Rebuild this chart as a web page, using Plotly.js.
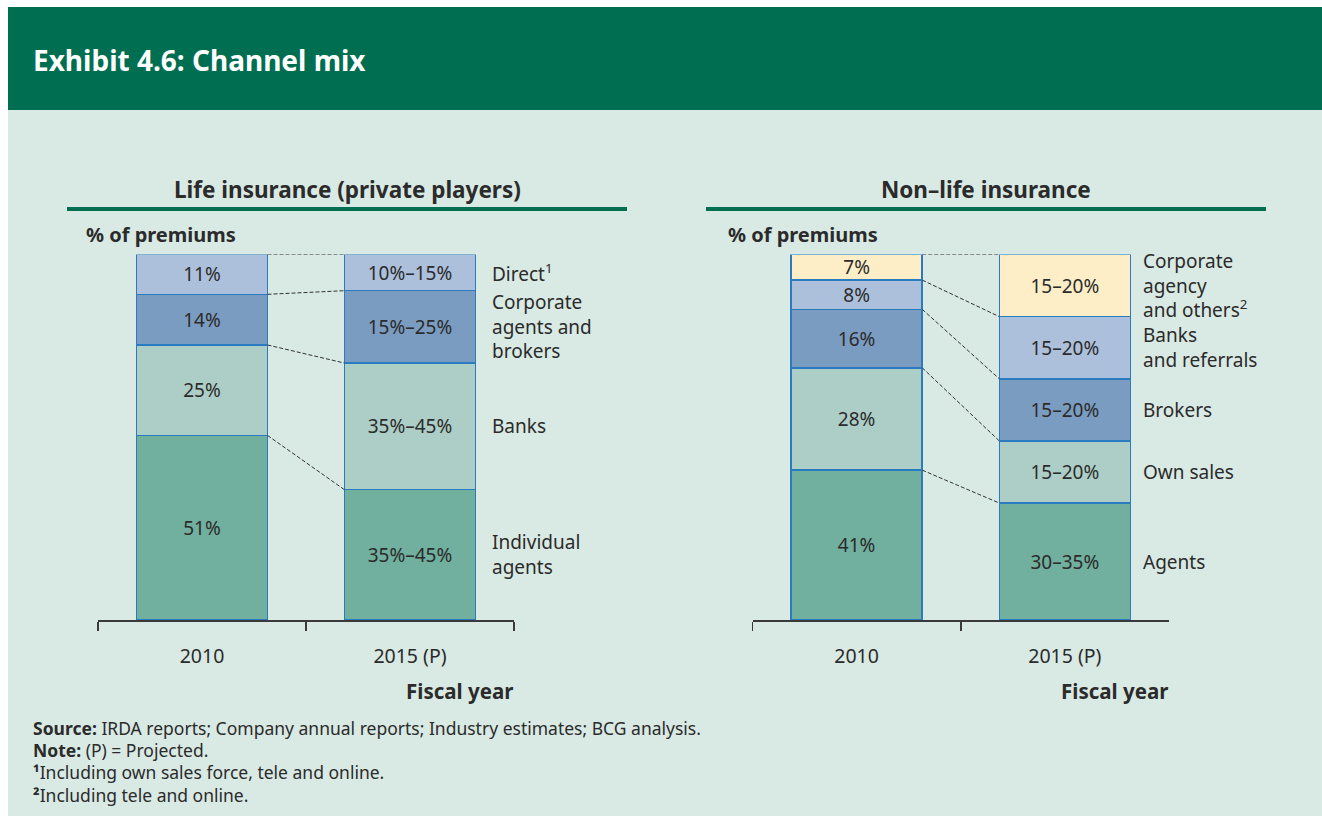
<!DOCTYPE html>
<html>
<head>
<meta charset="utf-8">
<script src="https://cdn.plot.ly/plotly-3.0.1.min.js"></script>
<style>
html,body{margin:0;padding:0;background:#ffffff;}
#chart{width:1322px;height:816px;}
</style>
</head>
<body>
<div id="chart"></div>
<script>
// ---------- DATA ----------
const years = ['2010', '2015 (P)'];

// Life insurance (private players), bottom -> top
const lifeSegments = ['Individual agents', 'Banks', 'Corporate agents and brokers', 'Direct'];
const lifeLabels = ['Individual<br>agents', 'Banks', 'Corporate<br>agents and<br>brokers', 'Direct<sup>1</sup>'];
const life2010 = [51, 25, 14, 11];
const life2015 = [36, 35, 20, 10];
const life2010Text = ['51%', '25%', '14%', '11%'];
const life2015Text = ['35%–45%', '35%–45%', '15%–25%', '10%–15%'];

// Non-life insurance, bottom -> top
const nonlifeSegments = ['Agents', 'Own sales', 'Brokers', 'Banks and referrals', 'Corporate agency and others'];
const nonlifeLabels = ['Agents', 'Own sales', 'Brokers', 'Banks<br>and referrals', 'Corporate<br>agency<br>and others<sup>2</sup>'];
const nonlife2010 = [41, 28, 16, 8, 7];
const nonlife2015 = [32, 17, 17, 17, 17];
const nonlife2010Text = ['41%', '28%', '16%', '8%', '7%'];
const nonlife2015Text = ['30–35%', '15–20%', '15–20%', '15–20%', '15–20%'];

const lifeColors = ['#71af9f', '#adcec7', '#7b9cc1', '#acc0db'];
const nonlifeColors = ['#71af9f', '#adcec7', '#7b9cc1', '#acc0db', '#fdeec7'];

// ---------- STYLE ----------
const W = 1322, H = 816;
const FONT = "'Noto Sans', 'DejaVu Sans', sans-serif";
const TXT = '#2b2b2b';
const GREEN = '#006e51';
const MINT = '#d9e9e3';
const BARW = 0.63;
const px = v => v / W;
const py = v => 1 - v / H;

function cum(arr) { let s = 0; return arr.map(v => (s += v)); }
function mids(arr) { let s = 0; return arr.map(v => { const m = s + v / 2; s += v; return m; }); }

const traces = [];
function addPanel(segs, v10, v15, t10, t15, colors, xa, ya, xo) {
  segs.forEach((name, i) => {
    traces.push({
      type: 'bar', name: name, x: years, y: [v10[i], v15[i]],
      text: [t10[i], t15[i]], textposition: 'inside', insidetextanchor: 'middle',
      textangle: 0, constraintext: 'none',
      textfont: { family: FONT, size: 19, color: TXT },
      width: BARW,
      marker: { color: colors[i], line: { color: '#2a7cc0', width: 1.5 } },
      xaxis: xa, yaxis: ya, showlegend: false, hoverinfo: 'skip'
    });
  });
  const c10 = cum(v10), c15 = cum(v15);
  const lx = [], ly = [];
  c10.forEach((v, i) => { lx.push(BARW / 2, 1 - BARW / 2, null); ly.push(v, c15[i], null); });
  traces.push({
    type: 'scatter', mode: 'lines', x: lx, y: ly, connectgaps: false,
    line: { color: '#333333', width: 1, dash: '4px,2px' },
    xaxis: xo, yaxis: ya, showlegend: false, hoverinfo: 'skip'
  });
}
addPanel(lifeSegments, life2010, life2015, life2010Text, life2015Text, lifeColors, 'x', 'y', 'x3');
addPanel(nonlifeSegments, nonlife2010, nonlife2015, nonlife2010Text, nonlife2015Text, nonlifeColors, 'x2', 'y2', 'x4');

const yDom = [py(620), py(254.5)];
function catAxis(l, r, anchor) {
  return {
    domain: [px(l), px(r)], anchor: anchor, type: 'category',
    showline: true, linecolor: '#3a3a3a', linewidth: 1.5,
    ticks: 'outside', tickson: 'boundaries', ticklen: 9, tickcolor: '#3a3a3a', tickwidth: 1.5,
    tickfont: { family: FONT, size: 19.5, color: TXT }, ticklabelstandoff: 18,
    showgrid: false, zeroline: false, fixedrange: true
  };
}
function overAxis(over, anchor) {
  return { overlaying: over, anchor: anchor, range: [-0.5, 1.5], visible: false, fixedrange: true };
}

const annotations = [];
function lab(text, x, y, o) {
  annotations.push(Object.assign({
    text: text, x: x, y: y, xref: 'paper', yref: 'paper', showarrow: false,
    xanchor: 'left', yanchor: 'middle', align: 'left',
    font: { family: FONT, size: 17, color: TXT }
  }, o || {}));
}
// header
lab('<b>Exhibit 4.6: Channel mix</b>', px(31), py(60), { font: { family: FONT, size: 28, color: '#ffffff' } });
// panel titles
lab('<b>Life insurance (private players)</b>', px(347), py(189), { xanchor: 'center', font: { family: FONT, size: 22.5, color: TXT } });
lab('<b>Non–life insurance</b>', px(986), py(189), { xanchor: 'center', font: { family: FONT, size: 22.5, color: TXT } });
lab('<b>% of premiums</b>', px(84), py(235), { font: { family: FONT, size: 20, color: TXT } });
lab('<b>% of premiums</b>', px(726), py(235), { font: { family: FONT, size: 20, color: TXT } });
lab('<b>Fiscal year</b>', px(459), py(691), { xanchor: 'center', font: { family: FONT, size: 20.5, color: TXT } });
lab('<b>Fiscal year</b>', px(1114), py(691), { xanchor: 'center', font: { family: FONT, size: 20.5, color: TXT } });
// segment labels tied to 2015 segment midpoints
mids(life2015).forEach((m, i) => {
  annotations.push({ text: lifeLabels[i], x: px(490), y: m, xref: 'paper', yref: 'y', showarrow: false,
    xanchor: 'left', yanchor: 'middle', align: 'left', font: { family: FONT, size: 19, color: TXT } });
});
mids(nonlife2015).forEach((m, i) => {
  annotations.push({ text: nonlifeLabels[i], x: px(1141), y: m, xref: 'paper', yref: 'y2', showarrow: false,
    xanchor: 'left', yanchor: 'middle', align: 'left', font: { family: FONT, size: 19, color: TXT } });
});
// footnotes
const FN = 17.5;
lab('<b>Source:</b> IRDA reports; Company annual reports; Industry estimates; BCG analysis.', px(31), py(728), { font: { family: FONT, size: FN, color: TXT } });
lab('<b>Note:</b> (P) = Projected.', px(31), py(750), { font: { family: FONT, size: FN, color: TXT } });
lab('<b>¹</b>Including own sales force, tele and online.', px(31), py(772), { font: { family: FONT, size: FN, color: TXT } });
lab('<b>²</b>Including tele and online.', px(31), py(795), { font: { family: FONT, size: FN, color: TXT } });

const shapes = [
  { type: 'rect', xref: 'paper', yref: 'paper', x0: px(8), x1: 1, y0: py(110), y1: py(7), fillcolor: GREEN, line: { width: 0 }, layer: 'below' },
  { type: 'rect', xref: 'paper', yref: 'paper', x0: px(8), x1: 1, y0: 0, y1: py(110), fillcolor: MINT, line: { width: 0 }, layer: 'below' },
  { type: 'line', xref: 'paper', yref: 'paper', x0: px(67), x1: px(627), y0: py(209), y1: py(209), line: { color: GREEN, width: 4 } },
  { type: 'line', xref: 'paper', yref: 'paper', x0: px(706), x1: px(1266), y0: py(209), y1: py(209), line: { color: GREEN, width: 4 } }
];

const layout = {
  width: W, height: H, margin: { l: 0, r: 0, t: 0, b: 0 },
  paper_bgcolor: '#ffffff', plot_bgcolor: 'rgba(0,0,0,0)',
  barmode: 'stack', showlegend: false, hovermode: false,
  font: { family: FONT, color: TXT },
  xaxis: catAxis(98, 514, 'y'),
  xaxis2: catAxis(752.5, 1169, 'y2'),
  xaxis3: overAxis('x', 'y'),
  xaxis4: overAxis('x2', 'y2'),
  yaxis: { domain: yDom, range: [0, 101], visible: false, anchor: 'x', fixedrange: true },
  yaxis2: { domain: yDom, range: [0, 100], visible: false, anchor: 'x2', fixedrange: true },
  shapes: shapes, annotations: annotations
};

Plotly.newPlot('chart', traces, layout, { staticPlot: true, displayModeBar: false });
</script>
</body>
</html>
